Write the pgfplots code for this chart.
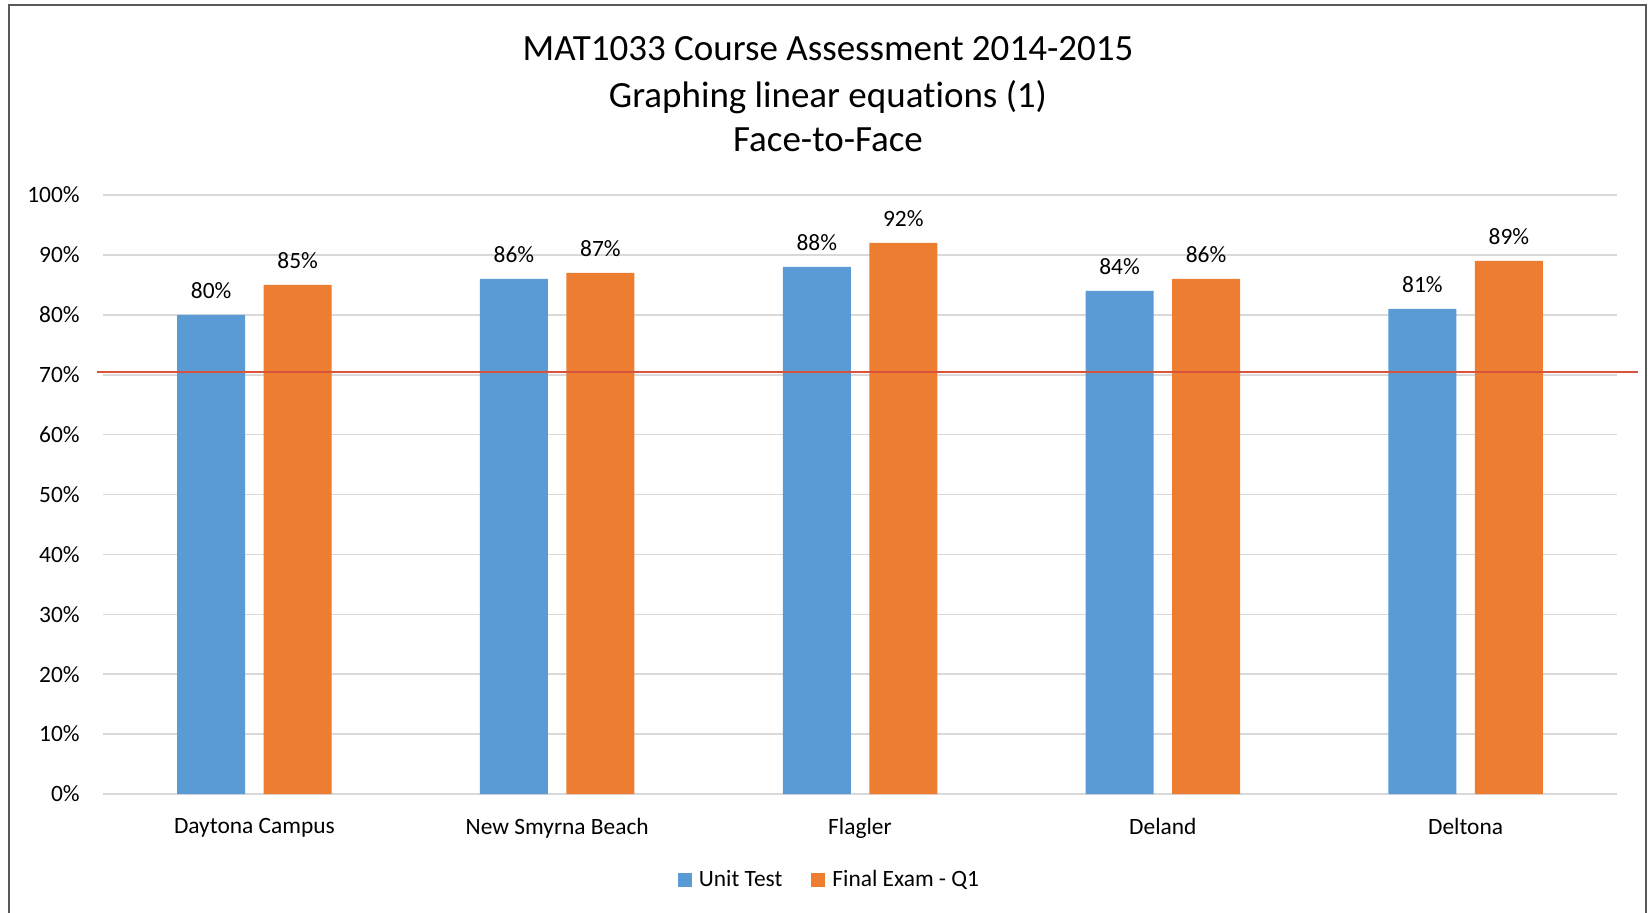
\documentclass[border=0pt]{standalone}
\usepackage{fontspec}
\setmainfont{Carlito}[Ligatures={NoCommon}]
\usepackage{pgfplots}
\pgfplotsset{compat=1.18}
\definecolor{blueB}{HTML}{5B9BD5}
\definecolor{orangeB}{HTML}{ED7D31}
\definecolor{redL}{HTML}{D9533B}
\definecolor{gridG}{HTML}{D9D9D9}
\definecolor{frameG}{HTML}{595959}
\newcommand{\sm}{\fontsize{11.7}{14}\selectfont}
\begin{document}
\begin{tikzpicture}[x=1pt,y=1pt]
\useasboundingbox (0,0) rectangle (824,456);
\draw[frameG, line width=1.2pt] (4.5,-10) -- (4.5,453.5) -- (823,453.5) -- (823,-10);
\node[font=\fontsize{18.5}{22}\selectfont] at (414,431.5) {MAT1033 Course Assessment 2014-2015};
\node[font=\fontsize{18.5}{22}\selectfont] at (414,407.5) {Graphing linear equations (1)};
\node[font=\fontsize{18.5}{22}\selectfont] at (414,386) {Face-to-Face};
\begin{axis}[
  at={(51.5pt,59pt)}, anchor=south west,
  scale only axis, width=757pt, height=299.5pt,
  xmin=-0.5, xmax=4.5, ymin=0, ymax=100,
  ybar, bar width=34pt,
  axis line style={draw=none},
  ymajorgrids, grid style={gridG, line width=0.8pt},
  major tick length=0pt,
  xtick={0,1,2,3,4},
  xticklabels={Daytona Campus, New Smyrna Beach, Flagler, Deland, Deltona},
  ytick={0,10,...,100},
  yticklabel={\pgfmathprintnumber[assume math mode=true]{\tick}\%},
  tick label style={font=\sm, text=black},
  yticklabel style={anchor=east, inner sep=0pt, xshift=-11.5pt},
  xticklabel style={anchor=north, inner sep=0pt, yshift=-12pt},
  clip=false,
  legend style={at={(0.4815,-0.143)}, anchor=center, draw=none, font=\sm,
    legend columns=2, inner sep=0pt,
    nodes={inner xsep=3.5pt},
    /tikz/every even column/.append style={column sep=11pt}},
  legend cell align=left,
]
\addplot[fill=blueB, draw=none, bar shift=-21.625pt,
  nodes near coords={\pgfmathprintnumber[assume math mode=true]{\pgfplotspointmeta}\%},
  nodes near coords style={font=\sm, text=black, anchor=south, inner sep=0pt, yshift=8pt},
  legend image code/.code={\fill[blueB] (0pt,-3.5pt) rectangle (7pt,3.5pt);}]
  coordinates {(0,80) (1,86) (2,88) (3,84) (4,81)};
\addplot[fill=orangeB, draw=none, bar shift=21.625pt,
  nodes near coords={\pgfmathprintnumber[assume math mode=true]{\pgfplotspointmeta}\%},
  nodes near coords style={font=\sm, text=black, anchor=south, inner sep=0pt, yshift=8pt},
  legend image code/.code={\fill[orangeB] (0pt,-3.5pt) rectangle (7pt,3.5pt);}]
  coordinates {(0,85) (1,87) (2,92) (3,86) (4,89)};
\legend{Unit Test, Final Exam - Q1}
\addplot[sharp plot, redL, line width=1pt, forget plot, mark=none]
  coordinates {(-0.52,70.4) (4.57,70.4)};
\end{axis}
\end{tikzpicture}
\end{document}
